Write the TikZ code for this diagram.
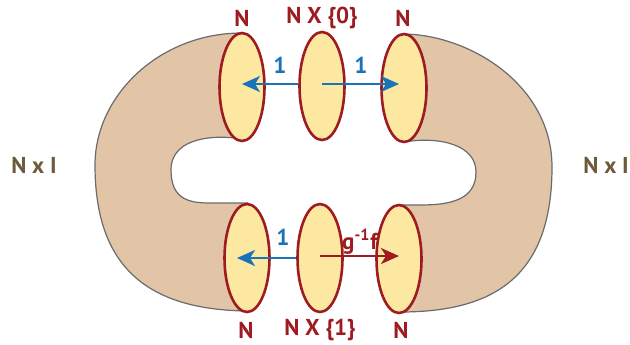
\documentclass[tikz,border=0pt]{standalone}
\usepackage{fontspec}
\setmainfont{PT Sans}
\usetikzlibrary{arrows.meta,shapes.geometric}
\definecolor{tubetan}{HTML}{E2C4A7}
\definecolor{diskyellow}{HTML}{FCE8A0}
\definecolor{diskred}{HTML}{9E1B22}
\definecolor{mapblue}{HTML}{1A72B9}
\definecolor{edgegray}{HTML}{6A6B6E}
\definecolor{labelbrown}{HTML}{6E5A3B}

\tikzset{
  disk/.style={ellipse, draw=diskred, fill=diskyellow, line width=1.3pt,
    minimum width=22.5pt, minimum height=54pt, inner sep=0pt},
  lab/.style={font=\bfseries\fontsize{11.5}{13}\selectfont, inner sep=0pt},
  rim/.style={edgegray, line width=0.6pt},
}

\begin{document}
\begin{tikzpicture}[x=0.5pt, y=-0.5pt, line width=1.1pt, >={Stealth[length=9pt,width=8pt,inset=2.5pt]}]
  \useasboundingbox (0,0) rectangle (630,344);

  % the two halves of N x I
  \fill[tubetan] (242,33) .. controls (160,33) and (95,95) .. (95,165)
    .. controls (95,260) and (140,310) .. (248,311) -- (248,203) -- (210,203)
    .. controls (190,203) and (171,200) .. (171,170)
    .. controls (171,135) and (220,135) .. (242,139) -- cycle;
  \fill[tubetan] (404,34) .. controls (470,35) and (552,85) .. (552,167)
    .. controls (552,280) and (490,312) .. (400,312) -- (400,205) -- (420,205)
    .. controls (450,205) and (476,200) .. (476,172)
    .. controls (476,145) and (440,136) .. (404,142) -- cycle;
  \draw[rim] (242,33) .. controls (160,33) and (95,95) .. (95,165)
    .. controls (95,260) and (140,310) .. (248,311);
  \draw[rim] (248,203) -- (210,203)
    .. controls (190,203) and (171,200) .. (171,170)
    .. controls (171,135) and (220,135) .. (242,139);
  \draw[rim] (404,34) .. controls (470,35) and (552,85) .. (552,167)
    .. controls (552,280) and (490,312) .. (400,312);
  \draw[rim] (400,205) -- (420,205)
    .. controls (450,205) and (476,200) .. (476,172)
    .. controls (476,145) and (440,136) .. (404,142);

  % disks
  \foreach \n/\x/\y in {tl/242/87, tm/322/86, tr/404/88, bl/247/258, bm/320/258, br/399/259}{
    \node[disk] (\n) at (\x,\y) {};
  }

  % maps
  \draw[mapblue, ->] ([yshift=1pt]tm.west) -- ([yshift=1.5pt]tl.center);
  \draw[mapblue, ->] ([yshift=1pt]tm.center) -- ([xshift=-2.5pt,yshift=2pt]tr.center);
  \draw[mapblue, ->] (bm.west) -- ([xshift=-5pt]bl.center);
  \draw[diskred, ->] ([yshift=1pt]bm.center) -- ([yshift=1.5pt]br.center);

  \foreach \n/\x/\y/\t in {ntl/242/18/N, ntm/322/18/{N X \{0\}}, ntr/403/18/N,
      nbl/246/330/N, nbm/320/330/{N X \{1\}}, nbr/401/330/N}{
    \node[lab, diskred] (\n) at (\x,\y) {\t};
  }
  \node[lab, mapblue] (one1) at (280,65) {1};
  \node[lab, mapblue] (one2) at (361,65) {1};
  \node[lab, mapblue] (one3) at (283,237) {1};
  \node[lab, diskred] (gf) at (360,242) {g\textsuperscript{-1}f};
  \node[lab, labelbrown] (nil) at (34,165) {N x I};
  \node[lab, labelbrown] (nir) at (606,165) {N x I};
\end{tikzpicture}
\end{document}
